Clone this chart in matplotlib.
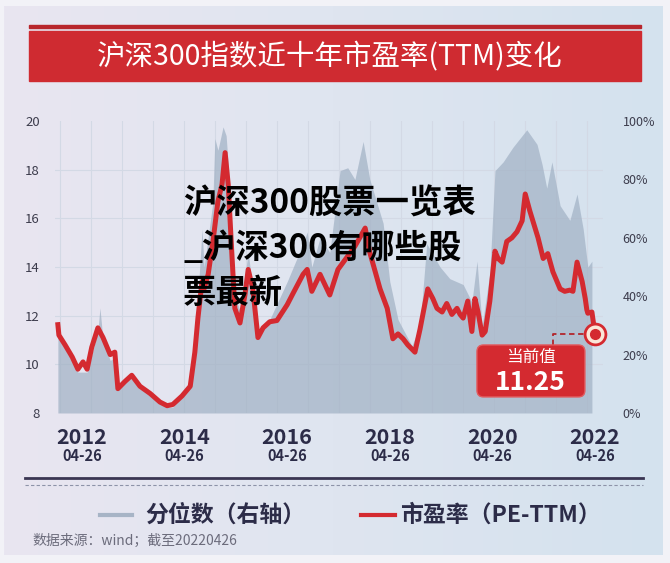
import numpy as np
import matplotlib.pyplot as plt
from matplotlib.patches import Rectangle, FancyBboxPatch
from matplotlib.colors import LinearSegmentedColormap

plt.rcParams['font.family'] = ['Noto Sans CJK SC', 'DejaVu Sans']

# 市盈率 (PE-TTM)，时间为小数年份
pe_t = [2011.85, 2011.87, 2011.99, 2012.13, 2012.24, 2012.34, 2012.42, 2012.51, 2012.63, 2012.73,
        2012.87, 2012.96, 2013.02, 2013.16, 2013.29, 2013.45, 2013.65, 2013.84, 2013.98, 2014.09,
        2014.27, 2014.43, 2014.52, 2014.58, 2014.66, 2014.70, 2014.78, 2014.87, 2014.97, 2015.05,
        2015.11, 2015.17, 2015.24, 2015.30, 2015.40, 2015.50, 2015.56, 2015.65, 2015.75, 2015.85,
        2015.98, 2016.12, 2016.32, 2016.43, 2016.63, 2016.71, 2016.80, 2016.96, 2017.15, 2017.31,
        2017.45, 2017.64, 2017.84, 2017.93, 2018.13, 2018.27, 2018.38, 2018.48, 2018.58, 2018.67,
        2018.81, 2018.91, 2019.06, 2019.16, 2019.24, 2019.34, 2019.43, 2019.53, 2019.63, 2019.69,
        2019.75, 2019.84, 2019.92, 2019.98, 2020.04, 2020.12, 2020.18, 2020.27, 2020.37, 2020.43,
        2020.51, 2020.60, 2020.70, 2020.80, 2020.90, 2020.96, 2021.05, 2021.21, 2021.31, 2021.40,
        2021.50, 2021.64, 2021.73, 2021.83, 2021.89, 2021.97, 2022.07, 2022.13, 2022.16, 2022.18,
        2022.26, 2022.32]
pe = [11.63, 11.2, 10.8, 10.3, 9.8, 10.1, 9.8, 10.7, 11.5, 11.1,
      10.4, 10.5, 9.0, 9.3, 9.55, 9.1, 8.8, 8.45, 8.3, 8.35,
      8.7, 9.1, 10.5, 11.9, 13.4, 13.1, 13.7, 15.0, 16.7, 17.4,
      18.7, 17.4, 14.6, 12.3, 11.7, 12.9, 13.9, 13.1, 11.1, 11.5,
      11.75, 11.8, 12.45, 12.9, 13.7, 13.9, 13.0, 13.7, 12.85, 13.9,
      14.3, 14.85, 15.6, 14.6, 13.1, 12.3, 11.05, 11.25, 11.05, 10.8,
      10.5, 11.45, 13.1, 12.7, 12.3, 12.15, 12.5, 12.05, 12.3, 12.05,
      11.9, 12.6, 11.35, 12.7, 12.15, 11.2, 11.35, 12.6, 14.65, 14.35,
      14.2, 15.05, 15.2, 15.45, 15.9, 17.0, 16.3, 15.2, 14.35, 14.55,
      13.8, 13.1, 13.0, 13.05, 13.0, 14.2, 13.4, 12.7, 12.25, 12.1,
      12.15, 11.25]

# 分位数 (右轴, %)
pct_t = [2011.85, 2011.99, 2012.24, 2012.42, 2012.63, 2012.67, 2012.73, 2012.87, 2012.96, 2013.02,
         2013.29, 2013.65, 2013.98, 2014.09, 2014.43, 2014.58, 2014.66, 2014.70, 2014.87, 2014.91,
         2014.97, 2015.07, 2015.13, 2015.21, 2015.30, 2015.40, 2015.56, 2015.75, 2015.98, 2016.32,
         2016.63, 2016.71, 2016.80, 2016.96, 2017.15, 2017.35, 2017.50, 2017.64, 2017.80, 2017.93,
         2018.19, 2018.32, 2018.48, 2018.75, 2018.91, 2019.04, 2019.30, 2019.49, 2019.75, 2019.92,
         2020.02, 2020.12, 2020.27, 2020.37, 2020.53, 2020.72, 2020.99, 2021.19, 2021.29, 2021.38,
         2021.48, 2021.64, 2021.83, 2021.97, 2022.09, 2022.18, 2022.26]
pct = [30, 22, 14, 14, 28, 36, 25, 18, 19, 8,
       13, 6, 2, 2, 9, 40, 63, 50, 72, 94,
       90, 98, 95, 75, 40, 35, 55, 28, 32, 45,
       58, 62, 50, 60, 55, 83, 84, 80, 93, 80,
       65, 45, 32, 23, 30, 58, 50, 46, 44, 38,
       52, 30, 48, 83, 86, 91, 97, 92, 85, 77,
       86, 71, 66, 75, 63, 50, 52]

year_ticks = [2012.32, 2014.32, 2016.32, 2018.32, 2020.32, 2022.32]
year_labels = ['2012', '2014', '2016', '2018', '2020', '2022']
current_pe = 11.25

red = '#d42a30'
navy = '#2c2c48'

fig = plt.figure(figsize=(6.7, 5.63), dpi=100)

# 背景渐变
bg = fig.add_axes([0, 0, 1, 1])
bg.set_xlim(0, 1)
bg.set_ylim(0, 1)
bg.axis('off')
bg.add_patch(Rectangle((0, 0), 1, 1, color='#f2f2f7'))
grad = np.linspace(0, 1, 256)[None, :]
cm = LinearSegmentedColormap.from_list('bg', ['#e9e6f1', '#dfe5f0', '#d4e2ee'])
bg.imshow(grad, extent=[4/670, 663/670, 8/563, 1 - 6/563], aspect='auto', cmap=cm, zorder=1)

# 标题栏
bg.add_patch(Rectangle((29/670, 1 - 28/563), 612/670, 3/563, color='#b8262c', zorder=2))
bg.add_patch(Rectangle((29/670, 1 - 81/563), 612/670, 50/563, color='#cf2b31', zorder=2))
bg.text(330/670, 1 - 57/563, '沪深300指数近十年市盈率(TTM)变化', color='white',
        fontsize=20.5, ha='center', va='center', zorder=3)

# 主图
ax = fig.add_axes([55/670, (563 - 413)/563, 548/670, 292/563])
ax2 = ax.twinx()
ax.set_zorder(2)
ax2.set_zorder(1)
ax.patch.set_visible(False)
ax2.patch.set_visible(False)

ax.set_xlim(2011.794, 2022.476)
ax.set_ylim(8, 20)
ax2.set_ylim(0, 100)

# 网格
for v in np.arange(10, 20, 2):
    ax2.axhline((v - 8) / 12 * 100, color='#d3d9e5', lw=0.8, zorder=0)
for xv in np.arange(2011.89, 2022.45, 0.604):
    ax2.axvline(xv, color='#d3d9e5', lw=0.8, zorder=0)

ax2.fill_between(pct_t, 0, pct, color='#a2b2c5', alpha=0.72, lw=0, zorder=1)
ax.plot(pe_t, pe, color=red, lw=3.6, solid_joinstyle='round', zorder=3)

for a in (ax, ax2):
    for s in a.spines.values():
        s.set_visible(False)
    a.tick_params(length=0)

ax.set_yticks(np.arange(8, 21, 2))
ax.set_yticklabels([str(v) for v in range(8, 21, 2)], fontsize=9.5, color='#3c3c4c')
ax.tick_params(axis='y', pad=11)
ax2.set_yticks(np.arange(0, 101, 20))
ax2.set_yticklabels([f'{v}%' for v in range(0, 101, 20)], fontsize=9, color='#3c3c4c')
ax2.tick_params(axis='y', pad=14)
ax.set_xticks([])

tr = ax.get_xaxis_transform()
for xv, lab in zip(year_ticks, year_labels):
    ax.text(xv, -0.084, lab, transform=tr, ha='center', va='center', fontsize=15.5,
            fontweight='bold', color=navy, clip_on=False)
    ax.text(xv, -0.146, '04-26', transform=tr, ha='center', va='center', fontsize=10.5,
            fontweight='bold', color=navy, clip_on=False)

# 当前值标注
xe = pe_t[-1]
ax.plot([2021.50, 2021.50, xe], [10.79, current_pe, current_pe], color='#b3262b',
        lw=1.3, ls=(0, (3, 2)), zorder=4)
ax.plot(xe, current_pe, 'o', ms=15, mfc='#fbe6d8', mec=red, mew=2, zorder=5, clip_on=False)
ax.plot(xe, current_pe, 'o', ms=7, color=red, zorder=6, clip_on=False)
box = FancyBboxPatch((0.770, 0.055), 0.197, 0.178, boxstyle='round,pad=0,rounding_size=0.012',
                     mutation_aspect=1.88, transform=ax.transAxes, fc=red, ec='#e25a5e',
                     lw=1, zorder=6)
ax.add_patch(box)
ax.text(0.868, 0.19, '当前值', transform=ax.transAxes, ha='center', va='center',
        fontsize=12, color='white', zorder=7)
ax.text(0.868, 0.105, f'{current_pe:.2f}', transform=ax.transAxes, ha='center', va='center',
        fontsize=19, fontweight='bold', color='white', zorder=7)

# 分隔线与图例
bg.plot([25/670, 643/670], [1 - 478/563] * 2, color='#3a3552', lw=2, zorder=3)
bg.plot([25/670, 643/670], [1 - 485/563] * 2, color='#8d93a8', lw=0.8, ls=(0, (3, 2)), zorder=3)
bg.plot([100/670, 132/670], [1 - 515/563] * 2, color='#a7b4c6', lw=3, zorder=3)
bg.text(145/670, 1 - 515/563, '分位数（右轴）', fontsize=16.5, fontweight='bold', color=navy,
        va='center', ha='left', zorder=3)
bg.plot([361/670, 395/670], [1 - 515/563] * 2, color=red, lw=3, zorder=3)
bg.text(400/670, 1 - 515/563, '市盈率（PE-TTM）', fontsize=16.5, fontweight='bold', color=navy,
        va='center', ha='left', zorder=3)
bg.text(32/670, 1 - 541/563, '数据来源：wind；截至20220426', fontsize=10, color='#6c6c7c',
        va='center', ha='left', zorder=3)

# 覆盖文字
for yy, line in zip([204, 248, 293], ['沪深300股票一览表', '_沪深300有哪些股', '票最新']):
    fig.text(183/670, 1 - yy/563, line, fontsize=24, fontweight='bold', color='black',
             va='center', ha='left', zorder=10)

fig.savefig('out.png', dpi=100)
